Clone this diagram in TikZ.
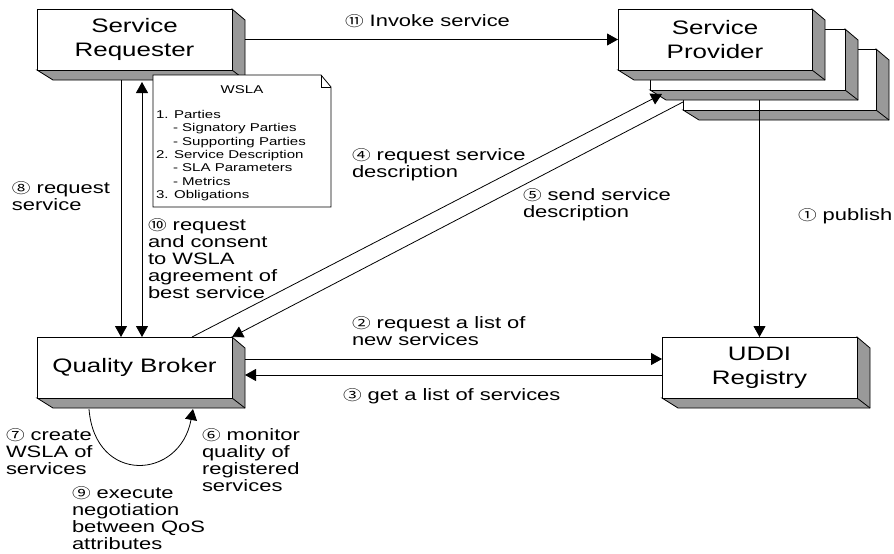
\documentclass[tikz,border=0pt]{standalone}
\usepackage{fontspec}
\setmainfont[FakeStretch=1.33]{Liberation Sans}
\newfontfamily\cjk[FakeStretch=1.33]{Noto Sans CJK KR}
\usetikzlibrary{arrows.meta,calc}
\definecolor{sideg}{gray}{0.6}
\newcommand\cn[1]{{\cjk\fontsize{14}{17}\selectfont #1}}
\tikzset{
  face/.style={draw, fill=white, line width=0.8pt, inner sep=0pt, outer sep=0pt,
    align=center, font=\fontsize{19.5}{24}\selectfont},
  side/.style={draw, fill=sideg, line width=0.8pt},
  plain/.style={line width=0.8pt},
  conn/.style={line width=0.8pt, -{Triangle[length=11pt,width=12pt]}},
  conn2/.style={line width=0.8pt, {Triangle[length=11pt,width=12pt]}-{Triangle[length=11pt,width=12pt]}},
  lbl/.style={inner sep=0pt, outer sep=0pt, anchor=north west, align=left,
    font=\fontsize{16.5}{17}\selectfont},
  doctext/.style={inner sep=0pt, outer sep=0pt, align=left,
    font=\fontsize{11.3}{13.3}\selectfont}
}
\newcommand\threed[6]{%
  \filldraw[side] (#4,#3) -- (#4+13,#3+11) -- (#4+13,#5+10) -- (#2+16,#5+10) -- (#2,#5) -- (#4,#5) -- cycle;
  \draw[plain] (#4,#5) -- (#4+13,#5+10);
  \node[face, minimum width={#4-#2}, minimum height={#5-#3}] (#1) at ({(#2+#4)/2},{(#3+#5)/2}) {#6};
}
\begin{document}
\begin{tikzpicture}[x=1pt,y=-1pt]
\useasboundingbox[fill=white] (0,0) rectangle (894,554);

% boxes
\threed{sr}{37}{9}{232}{70}{Service\\Requester}
\threed{sp3}{683}{49}{876}{110}{}
\threed{sp2}{650}{29}{845}{90}{}
\threed{sp}{618}{9}{812}{70}{Service\\Provider}
\threed{qb}{37}{337}{232}{398}{Quality Broker}
\threed{uddi}{662}{337}{857}{398}{UDDI\\Registry}

% WSLA document
\filldraw[plain, fill=white] (153,75) -- (321,75) -- (331,87) -- (331,207) -- (153,207) -- cycle;
\draw[plain] (321,75) -- (321,87) -- (331,87);
\node[doctext] (wslat) at (242,90) {WSLA};
\node[doctext, anchor=north west] (wslal) at (156,110.5) {1. Parties\\
\hspace*{17pt}- Signatory Parties\\
\hspace*{17pt}- Supporting Parties\\
2. Service Description\\
\hspace*{17pt}- SLA Parameters\\
\hspace*{17pt}- Metrics\\
3. Obligations};

% coordinates
\coordinate (c4) at ($(sp2.south west)+(12,4)$);
\coordinate (pubs) at ($(sp2.south -| uddi.north)+(0,10)$);

% connectors
\draw[conn] ([xshift=13pt]sr.east) -- (sp.west);
\draw[conn] ([xshift=-13.5pt,yshift=-10pt]sr.south) -- ([xshift=-13.5pt]qb.north);
\draw[conn2] ([xshift=7.5pt,yshift=-12pt]sr.south) -- ([xshift=7.5pt]qb.north);
\draw[conn] ([xshift=57.5pt]qb.north) -- (c4);
\draw[conn] ([yshift=-22.5pt]sp3.west) -- (qb.north east);
\draw[conn] (pubs) -- (uddi.north);
\draw[conn] ([xshift=13pt,yshift=8.5pt]qb.east) -- ([yshift=8.5pt]uddi.west);
\draw[conn] ([yshift=-7.5pt]uddi.west) -- ([xshift=13pt,yshift=-7.5pt]qb.east);
\draw[conn] ([xshift=-45.5pt,yshift=-11pt]qb.south) .. controls (95,485) and (180,480) .. ([xshift=58.5pt,yshift=-11pt]qb.south);

% labels
\node[lbl] (l11) at (345,15) {\cn{⑪} Invoke service};
\node[lbl] (l4) at (352,149) {\cn{④} request service\\description};
\node[lbl] (l5) at (523,189) {\cn{⑤} send service\\description};
\node[lbl] (l1) at (798,209) {\cn{①} publish};
\node[lbl] (l8) at (12,182) {\cn{⑧} request\\service};
\node[lbl] (l10) at (148,219) {\cn{⑩} request\\and consent\\to WSLA\\agreement of\\best service};
\node[lbl] (l2) at (352,317) {\cn{②} request a list of\\new services};
\node[lbl] (l3) at (343,389) {\cn{③} get a list of services};
\node[lbl] (l7) at (6,429) {\cn{⑦} create\\WSLA of\\services};
\node[lbl] (l6) at (202,429) {\cn{⑥} monitor\\quality of\\registered\\services};
\node[lbl] (l9) at (72,487) {\cn{⑨} execute\\negotiation\\between QoS\\attributes};
\end{tikzpicture}
\end{document}
